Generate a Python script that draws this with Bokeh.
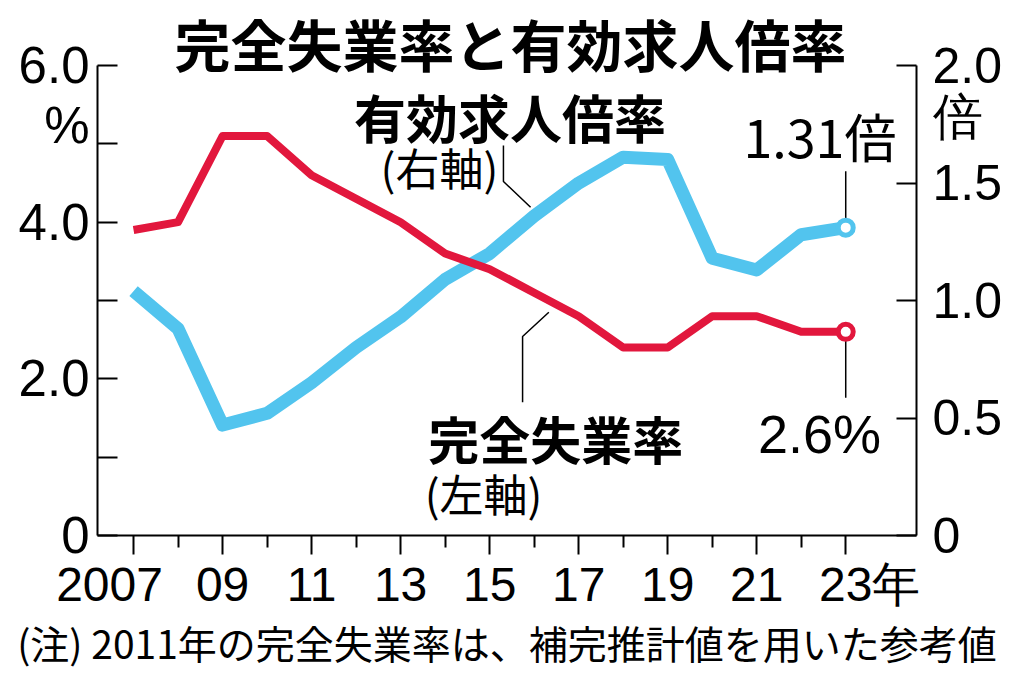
from bokeh.plotting import figure
from bokeh.models import Range1d, LinearAxis, FixedTicker, Label
from bokeh.embed import file_html
from bokeh.resources import INLINE

# ---- data ----
years = list(range(2007, 2024))
unemployment = [3.9, 4.0, 5.1, 5.1, 4.6, 4.3, 4.0, 3.6, 3.4, 3.1, 2.8, 2.4, 2.4, 2.8, 2.8, 2.6, 2.6]
job_ratio = [1.04, 0.88, 0.47, 0.52, 0.65, 0.80, 0.93, 1.09, 1.20, 1.36, 1.50, 1.61, 1.60, 1.18, 1.13, 1.28, 1.31]

x_major_years = [2007, 2009, 2011, 2013, 2015, 2017, 2019, 2021, 2023]
x_minor_years = [2008, 2010, 2012, 2014, 2016, 2018, 2020, 2022]
x_tick_labels = ["2007", "09", "11", "13", "15", "17", "19", "21", "23年"]

left_ticks = [0, 2, 4, 6]
left_minor = [0, 1, 2, 3, 4, 5, 6]
left_labels = ["0", "2.0", "4.0", "6.0"]
left_unit = "%"
right_ticks = [0, 0.5, 1.0, 1.5, 2.0]
right_labels = ["0", "0.5", "1.0", "1.5", "2.0"]
right_unit = "倍"

title_text = "完全失業率と有効求人倍率"
job_name = "有効求人倍率"
job_axis = "(右軸)"
unemp_name = "完全失業率"
unemp_axis = "(左軸)"
job_last_label = "1.31倍"
unemp_last_label = "2.6%"
note_text = "(注) 2011年の完全失業率は、補完推計値を用いた参考値"

RED = "#E2173D"
BLUE = "#52C4EE"
JP = "Noto Sans CJK JP"
NUM = "Liberation Sans"
EM_SP = "\u2003"

Y_TOP = 6.83  # range above 6.0 leaves room for the title inside the frame
p = figure(frame_width=819, frame_height=535, output_backend="svg",
           toolbar_location=None,
           x_range=Range1d(2006.19, 2024.59), y_range=Range1d(0, Y_TOP),
           min_border_left=97, min_border_right=90, min_border_top=0,
           min_border_bottom=127, background_fill_color="white",
           border_fill_color="white")
p.outline_line_color = None
p.xgrid.visible = False
p.ygrid.visible = False

# left axis: visible tick marks are the "minor" ticks, labels sit on major ticks
ya = p.yaxis[0]
ya.bounds = (left_ticks[0], left_ticks[-1])
ya.ticker = FixedTicker(ticks=left_ticks + [5.23], minor_ticks=left_minor)
overr = {t: l for t, l in zip(left_ticks, left_labels)}
overr[5.23] = left_unit
ya.major_label_overrides = overr
ya.major_tick_in = 0
ya.major_tick_out = 0
ya.minor_tick_in = 20
ya.minor_tick_out = 0
ya.axis_line_width = 2
ya.minor_tick_line_width = 2
ya.axis_line_color = "black"
ya.minor_tick_line_color = "black"
ya.major_label_standoff = 8
ya.major_label_text_font = NUM
ya.major_label_text_font_size = "51px"
ya.major_label_text_color = "black"

# right axis
p.extra_y_ranges = {"right": Range1d(0, Y_TOP / 3)}
ra = LinearAxis(y_range_name="right")
ra.bounds = (right_ticks[0], right_ticks[-1])
ra.ticker = FixedTicker(ticks=right_ticks + [1.78], minor_ticks=right_ticks)
overr_r = {t: l for t, l in zip(right_ticks, right_labels)}
overr_r[1.78] = right_unit
ra.major_label_overrides = overr_r
ra.major_tick_in = 0
ra.major_tick_out = 0
ra.minor_tick_in = 20
ra.minor_tick_out = 0
ra.axis_line_width = 2
ra.minor_tick_line_width = 2
ra.axis_line_color = "black"
ra.minor_tick_line_color = "black"
ra.major_label_standoff = 16
ra.major_label_text_font = NUM
ra.major_label_text_font_size = "50px"
ra.major_label_text_color = "black"
p.add_layout(ra, "right")

# bottom axis
xa = p.xaxis[0]
xa.ticker = FixedTicker(ticks=x_major_years, minor_ticks=x_minor_years)
xlab = {}
for yr, t in zip(x_major_years, x_tick_labels):
    if len(t) == 4 and t.isdigit():
        t = t + EM_SP
    elif t.endswith("年"):
        t = EM_SP + t
    xlab[yr] = t
xa.major_label_overrides = xlab
xa.major_tick_in = 0
xa.major_tick_out = 19
xa.minor_tick_in = 0
xa.minor_tick_out = 12
xa.axis_line_width = 2
xa.major_tick_line_width = 2
xa.minor_tick_line_width = 2
xa.axis_line_color = "black"
xa.major_tick_line_color = "black"
xa.minor_tick_line_color = "black"
xa.major_label_standoff = 3
xa.major_label_text_font = NUM
xa.major_label_text_font_size = "48px"
xa.major_label_text_color = "black"
xa.axis_label = note_text
xa.axis_label_standoff = 0
xa.axis_label_text_font = JP
xa.axis_label_text_font_size = "39px"
xa.axis_label_text_font_style = "normal"
xa.axis_label_text_color = "black"

# series
p.line(years, job_ratio, y_range_name="right", line_color=BLUE, line_width=13,
       line_join="round")
p.line(years, unemployment, line_color=RED, line_width=8, line_join="round")

# leader lines for the last values
p.line([years[-1], years[-1]], [1.55, job_ratio[-1]], y_range_name="right",
       line_color="black", line_width=1.5)
p.line([years[-1], years[-1]], [unemployment[-1], 1.76],
       line_color="black", line_width=1.5)
p.scatter([years[-1]], [job_ratio[-1]], y_range_name="right", marker="circle",
          size=15, fill_color="white", line_color=BLUE, line_width=5)
p.scatter([years[-1]], [unemployment[-1]], marker="circle",
          size=15, fill_color="white", line_color=RED, line_width=5)

# series-name leader lines
p.line([2015.31, 2015.31, 2015.92], [4.98, 4.52, 4.19], line_color="black", line_width=1.5)
p.line([2015.74, 2015.74, 2016.33], [1.70, 2.54, 2.85], line_color="black", line_width=1.5)

# texts
def lab(x, y, text, size, font=JP, align="left", style="normal"):
    p.add_layout(Label(x=x, y=y, text=text, text_align=align, text_baseline="middle",
                       text_font=font, text_font_size=size, text_font_style=style,
                       text_color="black"))

lab(2015.47, 6.30, title_text, "56px", align="center", style="bold")
lab(2011.95, 5.35, job_name, "52px", style="bold")
lab(2012.55, 4.70, job_axis, "44px")
lab(2013.62, 1.25, unemp_name, "51px", style="bold")
lab(2013.54, 0.54, unemp_axis, "44px")
lab(2022.42, 5.11, job_last_label, "52px", align="center")
lab(2022.41, 1.30, unemp_last_label, "54px", font=NUM, align="center")

open("out.html", "w").write(file_html(p, INLINE))
